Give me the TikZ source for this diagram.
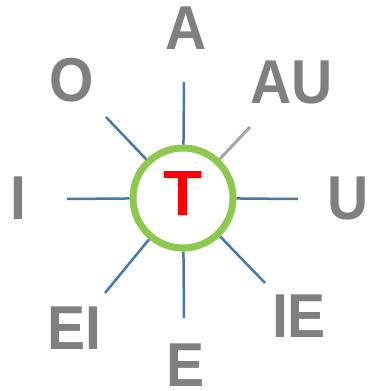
\documentclass[tikz,border=0pt]{standalone}
\usepackage{fontspec}
\newfontfamily\labelfont{Liberation Sans}
\usepackage{xcolor}
\usepackage{tikz}
\usetikzlibrary{positioning}
\definecolor{spokeblue}{RGB}{70,120,170}
\definecolor{spokegray}{RGB}{166,166,166}
\definecolor{ringgreen}{RGB}{141,201,78}
\definecolor{labelgray}{RGB}{128,128,128}
\begin{document}
\begin{tikzpicture}[
    x=1pt, y=-1pt,
    hub/.style={circle, draw=ringgreen, line width=7pt, minimum size=100pt, inner sep=0pt,
        text depth=9pt, text=red, font=\labelfont\bfseries\fontsize{64}{64}\selectfont},
    vowel/.style={inner sep=0pt, text=labelgray, xscale=0.92, transform shape,
        font=\labelfont\bfseries\fontsize{62}{62}\selectfont},
    spoke/.style={spokeblue, line width=2.5pt},
    gspoke/.style={spokegray, line width=3pt}
]
    \useasboundingbox (0,0) rectangle (368,391);

    % centre
    \node[hub] (t) at (183,198) {T};

    % spoke ends
    \coordinate (sA) at (184,82);
    \coordinate (sAU) at (250,127);
    \coordinate (sU) at (298,199);
    \coordinate (sIE) at (265,283);
    \coordinate (sE) at (184,318);
    \coordinate (sEI) at (105,293);
    \coordinate (sI) at (67,199);
    \coordinate (sO) at (106,117);

    % vowels
    \node[vowel] (vA) at (186,28) {A};
    \node[vowel] (vAU) at (292,82) {AU};
    \node[vowel] (vU) at (348,198) {U};
    \node[vowel] (vIE) at (299,316) {IE};
    \node[vowel] (vE) at (186,365) {E};
    \node[vowel] (vEI) at (74,328) {EI};
    \node[vowel] (vI) at (18,198) {I};
    \node[vowel] (vO) at (72,80) {O};

    % spokes
    \draw[spoke] (sA) -- (t);
    \draw[gspoke] (sAU) -- (t);
    \draw[spoke] (sU) -- (t);
    \draw[spoke] (sIE) -- (t);
    \draw[spoke] (sE) -- (t);
    \draw[spoke] (sEI) -- (t);
    \draw[spoke] (sI) -- (t);
    \draw[spoke] (sO) -- (t);
\end{tikzpicture}
\end{document}
